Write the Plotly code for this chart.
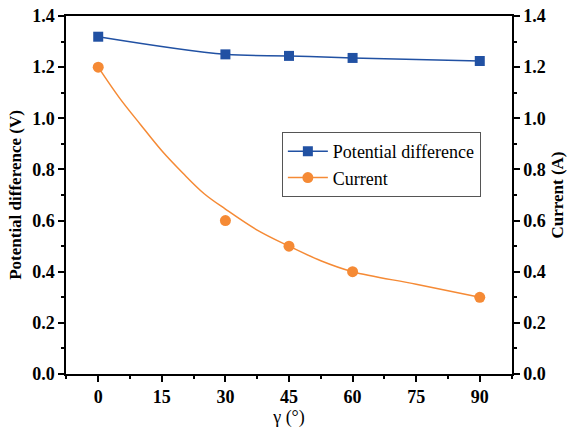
import plotly.graph_objects as go

# measured points
gamma = [0, 30, 45, 60, 90]
potential = [1.319, 1.250, 1.244, 1.236, 1.224]
current = [1.20, 0.60, 0.50, 0.40, 0.30]

# smoothed (fitted) current curve
fit_gamma = [0, 5, 10, 15, 20, 25, 30, 37.5, 45, 52.5, 60, 75, 90]
fit_current = [1.20, 1.08, 0.975, 0.873, 0.785, 0.705, 0.645, 0.563, 0.50, 0.443, 0.40, 0.351, 0.30]

blue = "#2151A3"
orange = "#F58A35"
font_family = "Times New Roman"

fig = go.Figure()
fig.add_trace(go.Scatter(
    x=gamma, y=potential, name="Potential difference", mode="lines+markers",
    line=dict(color=blue, width=1.5, shape="spline", smoothing=1.0),
    marker=dict(symbol="square", size=10, color=blue),
))
# legend entry for current (line + marker)
fig.add_trace(go.Scatter(
    x=[None], y=[None], name="Current", mode="lines+markers", yaxis="y2",
    line=dict(color=orange, width=1.5),
    marker=dict(symbol="circle", size=11, color=orange),
    legendgroup="cur",
))
fig.add_trace(go.Scatter(
    x=fit_gamma, y=fit_current, mode="lines", yaxis="y2", showlegend=False,
    line=dict(color=orange, width=1.5, shape="spline", smoothing=1.0),
    legendgroup="cur", hoverinfo="skip",
))
fig.add_trace(go.Scatter(
    x=gamma, y=current, mode="markers", yaxis="y2", showlegend=False,
    marker=dict(symbol="circle", size=11, color=orange),
    legendgroup="cur",
))

axis_common = dict(
    showline=True, linecolor="black", linewidth=1.5,
    ticks="outside", ticklen=6, tickwidth=1.5, tickcolor="black",
    showgrid=False, zeroline=False, automargin=False,
    tickfont=dict(family=font_family, size=18, color="black", weight="bold"),
)

fig.update_layout(
    width=569, height=432,
    margin=dict(l=66, r=57, t=16, b=58),
    plot_bgcolor="white", paper_bgcolor="white",
    font=dict(family=font_family, color="black"),
    showlegend=True,
    legend=dict(
        x=0.484, y=0.676, xanchor="left", yanchor="top",
        bordercolor="#555555", borderwidth=1, bgcolor="white",
        font=dict(family=font_family, size=18, color="black"),
        tracegroupgap=0, itemwidth=40,
    ),
    xaxis=dict(
        **axis_common, range=[-7.6, 97.6], tickvals=[0, 15, 30, 45, 60, 75, 90],
        mirror=True,
        minor=dict(ticks="outside", ticklen=3, tickwidth=1.5, tickcolor="black", tick0=0, dtick=7.5),
        title=dict(text="γ (°)", font=dict(family=font_family, size=18, color="black"), standoff=4),
    ),
    yaxis=dict(
        **axis_common, range=[0, 1.4], dtick=0.2, tickformat=".1f",
        minor=dict(ticks="outside", ticklen=3, tickwidth=1.5, tickcolor="black", dtick=0.1),
        title=dict(text="<b>Potential difference (V)</b>", font=dict(family=font_family, size=17, color="black"), standoff=6),
    ),
    yaxis2=dict(
        **axis_common, range=[0, 1.4], dtick=0.2, tickformat=".1f",
        overlaying="y", side="right",
        minor=dict(ticks="outside", ticklen=3, tickwidth=1.5, tickcolor="black", dtick=0.1),
        title=dict(text="<b>Current (A)</b>", font=dict(family=font_family, size=17, color="black"), standoff=6),
    ),
)

fig.write_html("out.html")
